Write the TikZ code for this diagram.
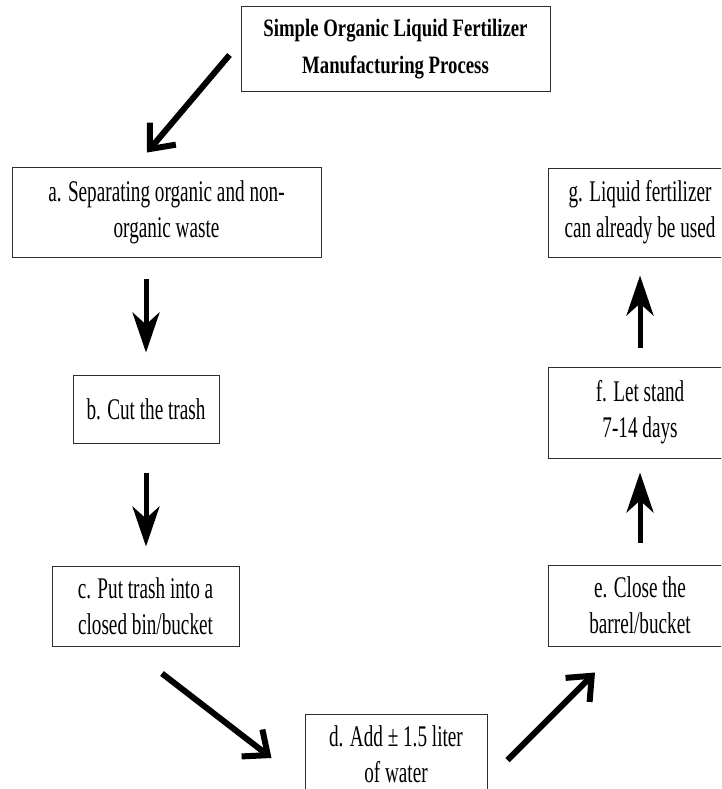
\documentclass[tikz,border=0pt]{standalone}
\usepackage{fontspec}
\setmainfont[FakeStretch=0.64]{Liberation Serif}
\newfontfamily\titlefont[FakeStretch=0.75]{Liberation Serif}
\usetikzlibrary{calc,arrows.meta}
\definecolor{boxline}{RGB}{45,45,45}

\begin{document}
\begin{tikzpicture}[x=1pt, y=-1pt,
  stepbox/.style={draw=boxline, line width=1pt, align=center, inner sep=0pt,
    font=\fontsize{30}{36}\selectfont},
  titlebox/.style={stepbox, font=\titlefont\bfseries\fontsize{25}{37}\selectfont},
  upright/.style={line width=5pt, -{Stealth[length=40pt,width=27pt,inset=12pt]}},
  slanted/.style={line width=6pt, -{Straight Barb[length=20pt,width=34pt]}}]
\useasboundingbox (0,0) rectangle (721,789);
\clip (0,0) rectangle (721,789);
\node[titlebox, minimum width=309pt, minimum height=85pt] (title) at (395.5,49.5) {Simple Organic Liquid Fertilizer\\Manufacturing Process};
\node[stepbox, minimum width=309pt, minimum height=90pt] (a) at (166.5,212) {a. Separating organic and non-\\organic waste};
\node[stepbox, minimum width=146pt, minimum height=68pt] (b) at (146,409) {b. Cut the trash};
\node[stepbox, minimum width=187pt, minimum height=80pt] (c) at (145.5,606) {c. Put trash into a\\closed bin/bucket};
\node[stepbox, minimum width=182pt, minimum height=80pt] (d) at (396,754) {d. Add ± 1.5 liter\\of water};
\node[stepbox, minimum width=184pt, minimum height=81pt] (e) at (640,605.5) {e. Close the\\barrel/bucket};
\node[stepbox, minimum width=184pt, minimum height=91pt] (f) at (640,412.5) {f. Let stand\\7-14 days};
\node[stepbox, minimum width=184pt, minimum height=89pt] (g) at (640,212.5) {g. Liquid fertilizer\\can already be used};
\draw[slanted] ($(title.west)+(-11,5.5)$) -- ($(a.north)+(-19.5,-14)$);
\draw[upright, shorten <=21pt, shorten >=22pt] (a.south -| b.north) -- (b.north);
\draw[upright, shorten <=29pt, shorten >=19pt] (b.south) -- (b.south |- c.north);
\draw[slanted] ($(c.south)+(16.5,27)$) -- ($(d.west)+(-33,4)$);
\draw[slanted] ($(d.east)+(20,6)$) -- ($(e.south)+(-45,26)$);
\draw[upright, shorten <=22pt, shorten >=14pt] (e.north) -- (f.south);
\draw[upright, shorten <=19pt, shorten >=18pt] (f.north) -- (g.south);
\end{tikzpicture}
\end{document}
